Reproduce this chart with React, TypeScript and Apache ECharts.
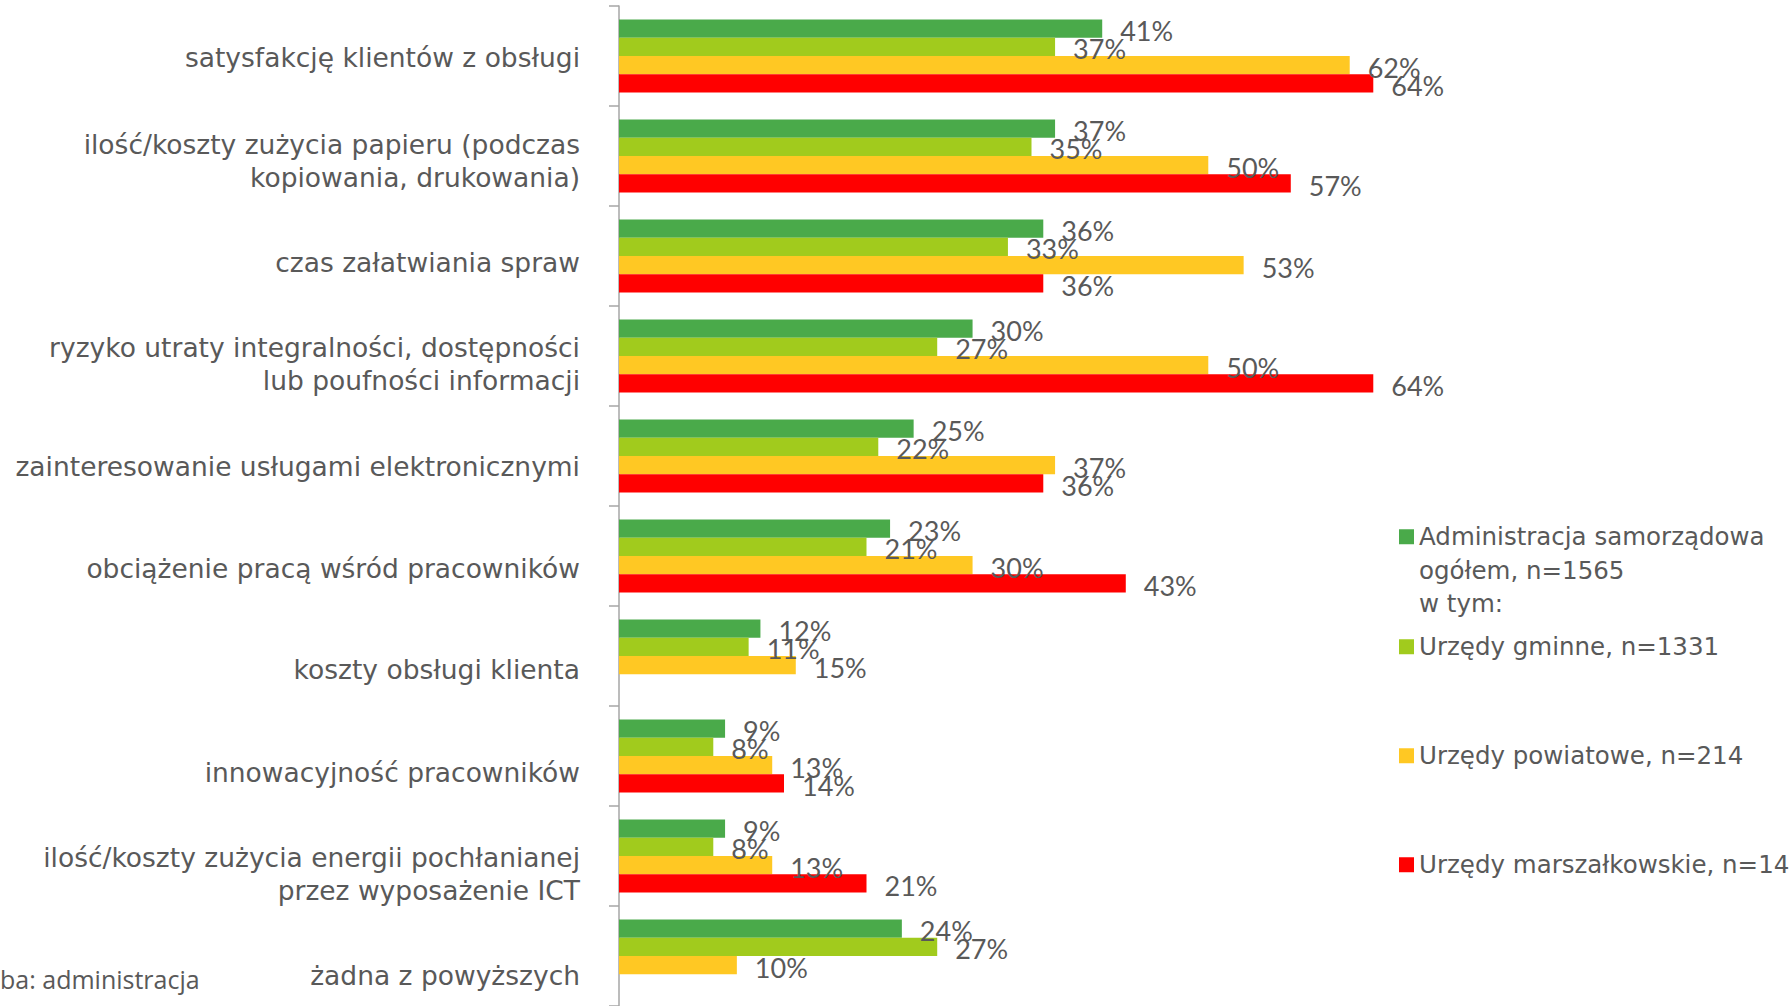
import React, { useEffect, useRef } from "react";
import * as echarts from "echarts";

const FONT = "'DejaVu Sans', 'Open Sans', sans-serif";
const NOTE_FONT = "'Open Sans', 'Noto Sans', sans-serif";
const LABEL_FONT = "Lato, 'Noto Sans', sans-serif";
const TEXT_COLOR = "#595959";

const categories = [
  "satysfakcję klientów z obsługi",
  "ilość/koszty zużycia papieru (podczas\nkopiowania, drukowania)",
  "czas załatwiania spraw",
  "ryzyko utraty integralności, dostępności\nlub poufności informacji",
  "zainteresowanie usługami elektronicznymi",
  "obciążenie pracą wśród pracowników",
  "koszty obsługi klienta",
  "innowacyjność pracowników",
  "ilość/koszty zużycia energii pochłanianej\nprzez wyposażenie ICT",
  "żadna z powyższych",
];

const seriesNames = [
  "Administracja samorządowa\nogółem, n=1565\nw tym:",
  "Urzędy gminne, n=1331",
  "Urzędy powiatowe, n=214",
  "Urzędy marszałkowskie, n=14",
];

const ogolem = [41, 37, 36, 30, 25, 23, 12, 9, 9, 24];
const gminne = [37, 35, 33, 27, 22, 21, 11, 8, 8, 27];
const powiatowe = [62, 50, 53, 50, 37, 30, 15, 13, 13, 10];
const marszalkowskie = [64, 57, 36, 64, 36, 43, null, 14, 21, null];

const seriesColors = ["#4aaa4a", "#a1cb1d", "#ffc823", "#ff0000"];
const legendTops = [453, 630, 739, 848];
// downward drift of the category labels relative to their bands (px)
const labelDrift = [1.5, 4.5, 6, 8, 10, 12, 13.5, 16, 17.5, 19];

export default function App() {
  const ref = useRef<HTMLDivElement>(null);

  useEffect(() => {
    document.body.style.margin = "0";
    document.body.style.overflow = "hidden";
    if (!ref.current) return;
    const chart = echarts.init(ref.current, undefined, { renderer: "svg" });
    const values = [ogolem, gminne, powiatowe, marszalkowskie];

    const rich: any = {
      t: { fontSize: 26.5, lineHeight: 33, color: TEXT_COLOR, fontFamily: FONT, align: "right" },
    };
    labelDrift.forEach((d, i) => {
      rich["g" + i] = { fontSize: 1, lineHeight: Math.max(1, 2 * d), height: Math.max(1, 2 * d) };
    });

    const option: any = {
      animation: false,
      textStyle: { fontFamily: FONT },
      grid: { left: 619, top: 6, width: 825, height: 1000 },
      xAxis: {
        type: "value",
        min: 0,
        max: 70,
        show: false,
        splitLine: { show: false },
      },
      yAxis: {
        type: "category",
        inverse: true,
        data: categories,
        axisLine: { show: true, lineStyle: { color: "#a6a6a6", width: 1.5 } },
        axisTick: { show: true, length: 10, lineStyle: { color: "#a6a6a6", width: 1.5 } },
        axisLabel: {
          margin: 39,
          color: TEXT_COLOR,
          fontFamily: FONT,
          align: "right",
          formatter: (value: string, index: number) =>
            `{g${index}|\u00a0}\n` +
            value
              .split("\n")
              .map((l) => `{t|${l}}`)
              .join("\n"),
          rich,
        },
        splitLine: { show: false },
      },
      legend: seriesNames.map((n, i) => ({
        data: [n],
        orient: "vertical",
        left: 1399,
        top: legendTops[i],
        padding: 0,
        itemWidth: 15,
        itemHeight: 15,
        itemGap: 0,
        icon: "rect",
        selectedMode: false,
        formatter: i === 0 ? (name: string) => "\n\n" + name : undefined,
        textStyle: { fontSize: 24.5, lineHeight: 33.5, color: TEXT_COLOR, fontFamily: FONT },
      })),
      graphic: [
        {
          type: "text",
          left: 0,
          top: 966,
          style: {
            text: "ba: administracja",
            fontSize: 25,
            fill: TEXT_COLOR,
            fontFamily: NOTE_FONT,
          },
        },
      ],
      series: seriesNames.map((n, i) => ({
        name: n,
        type: "bar",
        data: values[i],
        barGap: "0%",
        barCategoryGap: "27%",
        itemStyle: { color: seriesColors[i] },
        label: {
          show: true,
          position: "right",
          distance: 18,
          offset: [0, 2],
          formatter: "{c}%",
          fontSize: 27,
          color: TEXT_COLOR,
          fontFamily: LABEL_FONT,
        },
      })),
    };
    chart.setOption(option);
    return () => chart.dispose();
  }, []);

  return <div ref={ref} style={{ width: 1792, height: 1006 }} />;
}
